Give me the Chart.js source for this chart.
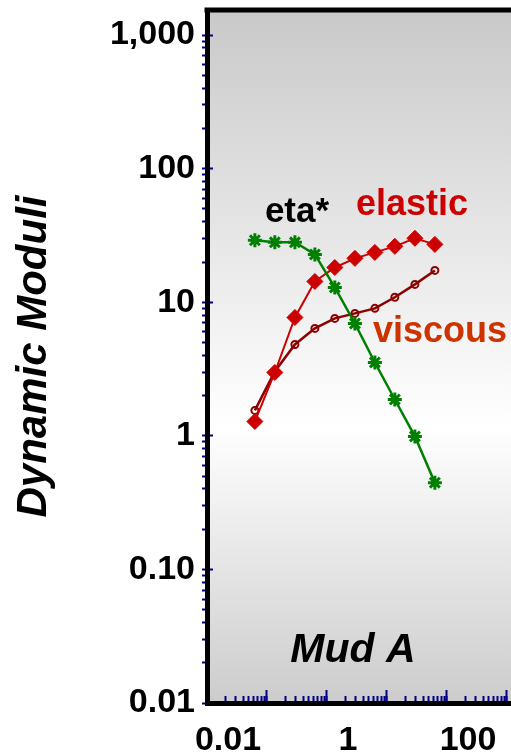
<!DOCTYPE html>
<html>
<head>
<meta charset="utf-8">
<script src="https://cdn.jsdelivr.net/npm/chart.js@4"></script>
<style>
  html, body { margin: 0; padding: 0; background: #fff; overflow: hidden; }
  canvas { display: block; }
</style>
</head>
<body>
<canvas id="myChart" width="511" height="755"></canvas>
<script>
// angular frequency, rad/s (0.01 .. 10 Hz, three points per decade)
let frequency = [0.0628, 0.135, 0.292, 0.628, 1.35, 2.92, 6.28, 13.5, 29.2, 62.8];
let etaStar = [29.1, 28.1, 28.1, 22.8, 12.9, 6.93, 3.54, 1.87, 0.99, 0.446];
let elastic = [1.28, 2.98, 7.69, 14.3, 18.2, 21.3, 23.6, 26.2, 30.1, 27.1];
let viscous = [1.55, 3.03, 4.83, 6.37, 7.57, 8.25, 9.0, 10.9, 13.6, 17.3];

let yTickLabels = {'-2': '0.01', '-1': '0.10', '0': '1', '1': '10', '2': '100', '3': '1,000'};
let xTickLabels = {'-2': '0.01', '0': '1', '2': '100'};

let xMin = 0.01, xMax = 1166;
let yMin = 0.01, yMax = 1540;

Chart.defaults.font.family = "'Liberation Sans', Arial, sans-serif";

function decadeOf(v) { return Math.round(Math.log10(v)); }
function isDecade(v) { return Math.abs(Math.log10(v) - decadeOf(v)) < 1e-6; }
function wholeMantissa(v) {
    let e = Math.floor(Math.log10(v) + 1e-9);
    let m = v / Math.pow(10, e);
    return Math.abs(m - Math.round(m)) < 1e-6;
}
function pairs(ys) { return frequency.map((f, i) => ({x: f, y: ys[i]})); }
function noPadding(s) { s.paddingLeft = 0; s.paddingRight = 0; s.paddingTop = 0; s.paddingBottom = 0; }

const notes = [
    {text: 'eta*', x: 0.316, y: 47.3, color: '#000000', font: "bold 35px 'Liberation Sans', Arial"},
    {text: 'elastic', x: 26.1, y: 53.4, color: '#CC0000', font: "bold 36px 'Liberation Sans', Arial"},
    {text: 'viscous', x: 76.4, y: 5.98, color: '#CC3300', font: "bold 36px 'Liberation Sans', Arial"},
    {text: 'Mud A', x: 2.71, y: 0.0245, color: '#000000', font: "italic bold 41px 'Liberation Sans', Arial"}
];

const plotBackground = {
    id: 'plotBackground',
    beforeDraw(chart) {
        const {ctx, chartArea: a} = chart;
        const g = ctx.createLinearGradient(0, a.top, 0, a.bottom);
        g.addColorStop(0, '#c9c9c9');
        g.addColorStop(0.6, '#ffffff');
        g.addColorStop(1, '#cccccc');
        ctx.save();
        ctx.fillStyle = g;
        ctx.fillRect(a.left, a.top, a.right - a.left, a.bottom - a.top);
        ctx.restore();
    },
    afterDraw(chart) {
        const {ctx, chartArea: a} = chart;
        ctx.save();
        ctx.fillStyle = '#000';
        ctx.fillRect(a.left - 2.5, a.top - 2.5, a.right - a.left + 2.5, 5);
        ctx.restore();
    }
};

const annotations = {
    id: 'annotations',
    afterDatasetsDraw(chart) {
        const {ctx, scales: {x, y}} = chart;
        ctx.save();
        ctx.textAlign = 'center';
        ctx.textBaseline = 'middle';
        notes.forEach(n => {
            ctx.font = n.font;
            ctx.fillStyle = n.color;
            ctx.fillText(n.text, x.getPixelForValue(n.x), y.getPixelForValue(n.y));
        });
        ctx.restore();
    }
};

let chart = new Chart(document.getElementById('myChart').getContext('2d'), {
    type: 'scatter',
    data: {
        datasets: [{
            label: 'eta*',
            data: pairs(etaStar),
            showLine: true,
            borderColor: '#008000',
            backgroundColor: '#008000',
            borderWidth: 2.5,
            pointStyle: 'star',
            pointRadius: 7,
            pointBorderWidth: 3
        }, {
            label: 'elastic',
            data: pairs(elastic),
            showLine: true,
            borderColor: '#CC0000',
            backgroundColor: '#CC0000',
            borderWidth: 2,
            pointStyle: 'rectRot',
            pointRadius: 8,
            pointBorderWidth: 1
        }, {
            label: 'viscous',
            data: pairs(viscous),
            showLine: true,
            borderColor: '#8B0000',
            backgroundColor: 'rgba(0,0,0,0)',
            borderWidth: 2.5,
            pointStyle: 'circle',
            pointRadius: 3.5,
            pointBorderWidth: 2
        }]
    },
    options: {
        responsive: false,
        animation: false,
        layout: {autoPadding: false, padding: {top: 10, right: 0, left: 0, bottom: 0}},
        plugins: {
            legend: {display: false},
            tooltip: {enabled: false}
        },
        scales: {
            x: {
                type: 'logarithmic',
                position: 'bottom',
                weight: 1,
                min: xMin,
                max: xMax,
                afterBuildTicks: s => { s.ticks = s.ticks.filter(t => wholeMantissa(t.value)); },
                afterFit: s => { s.height = 52; noPadding(s); },
                border: {display: true, color: '#000', width: 5},
                grid: {drawOnChartArea: false, tickLength: -7, tickColor: '#000080', tickWidth: 2},
                ticks: {
                    autoSkip: false,
                    maxRotation: 0,
                    padding: 24,
                    labelOffset: 21,
                    color: '#000',
                    font: {size: 34, weight: 'bold'},
                    callback: v => isDecade(v) ? (xTickLabels[decadeOf(v)] || '') : ''
                }
            },
            x2: {
                type: 'logarithmic',
                position: 'bottom',
                weight: 0,
                min: xMin,
                max: xMax,
                afterBuildTicks: s => { s.ticks = s.ticks.filter(t => isDecade(t.value)); },
                afterFit: s => { s.height = 0; noPadding(s); },
                border: {display: false},
                grid: {drawOnChartArea: false, tickLength: -13, tickColor: '#000080', tickWidth: 2},
                ticks: {display: false}
            },
            y: {
                type: 'logarithmic',
                position: 'left',
                weight: 1,
                min: yMin,
                max: yMax,
                afterBuildTicks: s => { s.ticks = s.ticks.filter(t => wholeMantissa(t.value)); },
                afterFit: s => { s.width = 207; noPadding(s); },
                border: {display: true, color: '#000', width: 5},
                grid: {drawOnChartArea: false, tickLength: 5, tickColor: '#000080', tickWidth: 2},
                ticks: {
                    autoSkip: false,
                    padding: 7,
                    color: '#000',
                    font: {size: 34, weight: 'bold'},
                    callback: v => isDecade(v) ? (yTickLabels[decadeOf(v)] || '') : ''
                },
                title: {
                    display: true,
                    text: 'Dynamic Moduli',
                    color: '#000',
                    font: {size: 42, weight: 'bold', style: 'italic'},
                    padding: {top: 9, bottom: 0}
                }
            },
            y2: {
                type: 'logarithmic',
                position: 'left',
                weight: 0,
                min: yMin,
                max: yMax,
                afterBuildTicks: s => { s.ticks = s.ticks.filter(t => isDecade(t.value)); },
                afterFit: s => { s.width = 0; noPadding(s); },
                border: {display: false},
                grid: {drawOnChartArea: false, tickLength: -6, tickColor: '#000080', tickWidth: 2},
                ticks: {display: false}
            }
        }
    },
    plugins: [plotBackground, annotations]
});
</script>
</body>
</html>
